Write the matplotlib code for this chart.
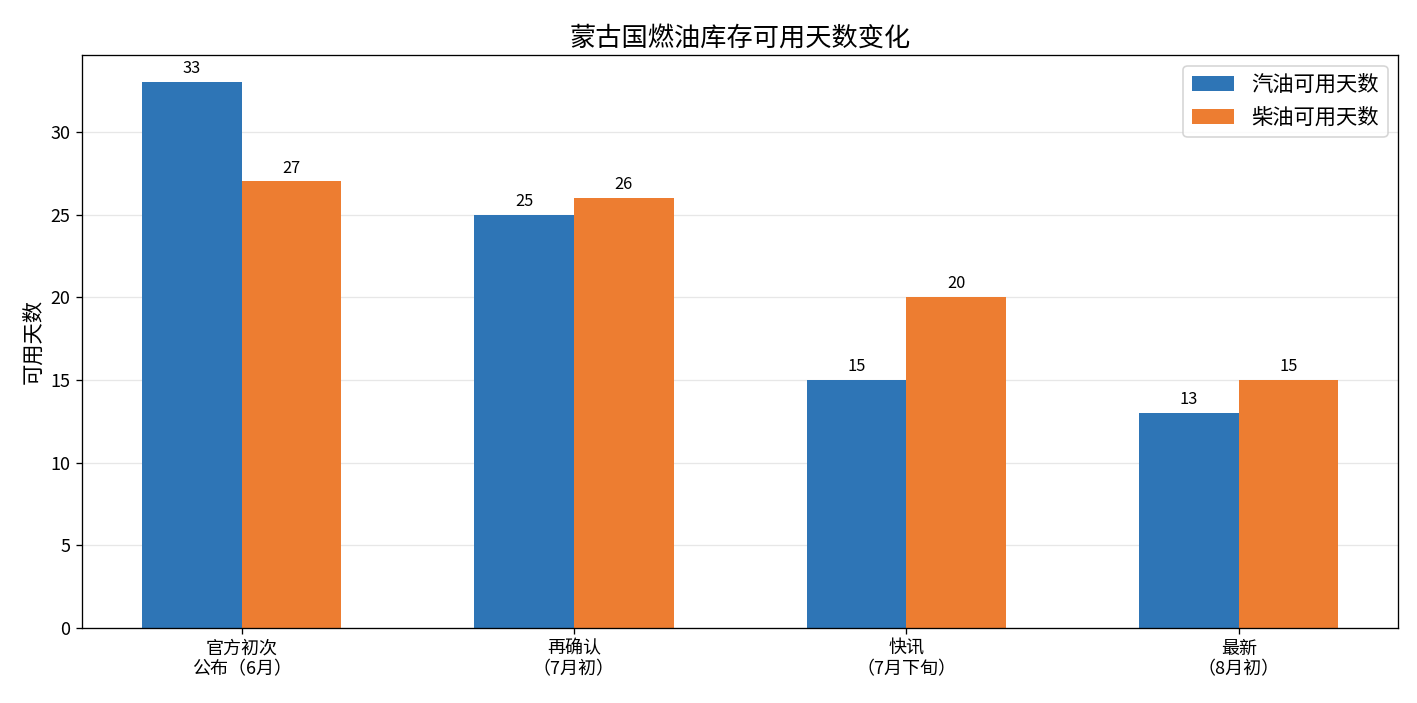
import matplotlib
matplotlib.use("Agg")
import matplotlib.pyplot as plt
import numpy as np

plt.rcParams['font.family'] = ['Noto Sans CJK SC', 'DejaVu Sans']
plt.rcParams['axes.unicode_minus'] = False

categories = ['官方初次\n公布（6月）', '再确认\n（7月初）', '快讯\n（7月下旬）', '最新\n（8月初）']
gasoline = [33, 25, 15, 13]
diesel = [27, 26, 20, 15]

x = np.arange(len(categories))
width = 0.3

fig, ax = plt.subplots(figsize=(12, 5.953), dpi=118.1)
b1 = ax.bar(x - width / 2, gasoline, width, label='汽油可用天数', color='#2E75B6')
b2 = ax.bar(x + width / 2, diesel, width, label='柴油可用天数', color='#ED7D31')

for bars in (b1, b2):
    for rect in bars:
        h = rect.get_height()
        ax.annotate(f'{h:g}', xy=(rect.get_x() + rect.get_width() / 2, h),
                    xytext=(0, 3), textcoords='offset points',
                    ha='center', va='bottom', fontsize=10)

ax.set_title('蒙古国燃油库存可用天数变化', fontsize=16)
ax.set_ylabel('可用天数', fontsize=13)
ax.set_xticks(x)
ax.set_xticklabels(categories, fontsize=11)
ax.tick_params(axis='y', labelsize=11)
ax.yaxis.grid(True, alpha=0.3)
ax.set_axisbelow(True)
ax.legend(fontsize=13, loc='upper right')

plt.subplots_adjust(left=0.0579, right=0.9866, top=0.9218, bottom=0.1067)
plt.savefig('out.png')
